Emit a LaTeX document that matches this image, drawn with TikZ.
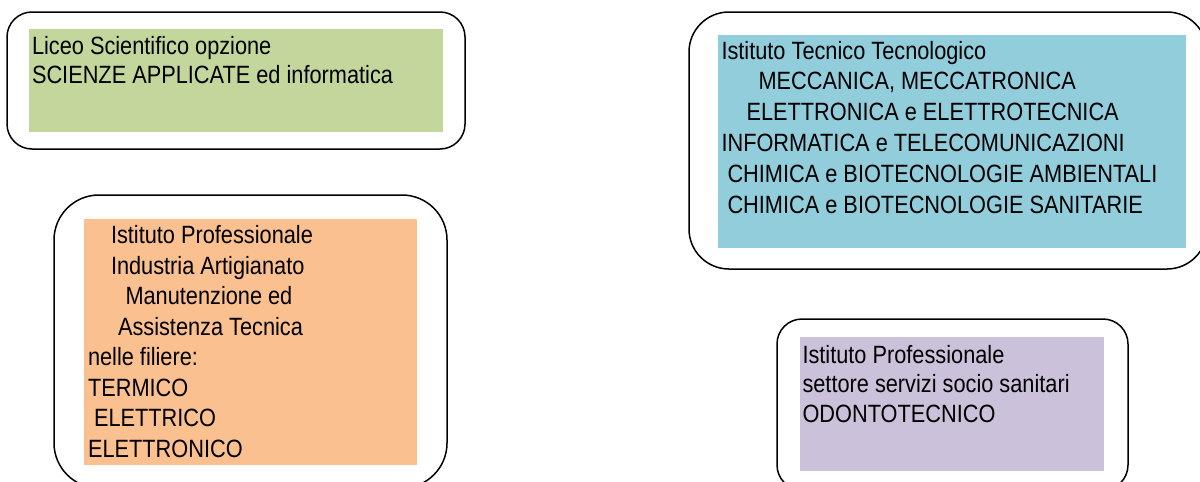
\documentclass[tikz,border=0pt]{standalone}
\usepackage{fontspec}
\setmainfont{Liberation Sans}
\newfontfamily\narrowfont[FakeStretch=0.87]{Liberation Sans}
\definecolor{cgreen}{RGB}{195,214,155}
\definecolor{corange}{RGB}{250,192,144}
\definecolor{cblue}{RGB}{146,205,220}
\definecolor{cpurple}{RGB}{204,193,218}
\tikzset{
  outerbox/.style={draw=black, line width=1.5pt, fill=white, anchor=north west, inner sep=0pt, outer sep=0pt},
  fillbox/.style={draw=none, anchor=north west, inner sep=0pt, outer sep=0pt},
  txt/.style={anchor=base west, inner sep=0pt, outer sep=0pt, text=black, font=\narrowfont\fontsize{25pt}{30pt}\selectfont}
}
\begin{document}
\begin{tikzpicture}[x=1pt,y=-1pt]
\useasboundingbox (0,0) rectangle (1200,482);
\clip (0,0) rectangle (1200,482);
% box 1
\node[outerbox, rounded corners=25pt, minimum width=458pt, minimum height=137pt] (box1) at (7,12) {};
\node[fillbox, fill=cgreen, minimum width=414pt, minimum height=103pt] (fill1) at (29,29) {};
\node[txt] (g1) at (32,54.5) {Liceo Scientifico opzione};
\node[txt] (g2) at (32,83.5) {SCIENZE APPLICATE ed informatica};
% box 2
\node[outerbox, rounded corners=45pt, minimum width=393pt, minimum height=293pt] (box2) at (54,195) {};
\node[fillbox, fill=corange, minimum width=333pt, minimum height=246pt] (fill2) at (84,219) {};
\node[txt] (o1) at (111,243.5) {Istituto Professionale};
\node[txt] (o2) at (111,274) {Industria Artigianato};
\node[txt] (o3) at (125.5,304.5) {Manutenzione ed};
\node[txt] (o4) at (118,335) {Assistenza Tecnica};
\node[txt] (o5) at (88,365.5) {nelle filiere:};
\node[txt] (o6) at (88,396) {TERMICO};
\node[txt] (o7) at (94,426.5) {ELETTRICO};
\node[txt] (o8) at (88,457) {ELETTRONICO};
% box 3
\node[outerbox, rounded corners=40pt, minimum width=518pt, minimum height=257pt] (box3) at (689,12) {};
\node[fillbox, fill=cblue, minimum width=468pt, minimum height=213pt] (fill3) at (718,35) {};
\node[txt] (b1) at (721.5,59) {Istituto Tecnico Tecnologico};
\node[txt] (b2) at (758.5,89.5) {MECCANICA, MECCATRONICA};
\node[txt] (b3) at (746.5,120) {ELETTRONICA e ELETTROTECNICA};
\node[txt] (b4) at (721.5,151) {INFORMATICA e TELECOMUNICAZIONI};
\node[txt] (b5) at (727.5,182) {CHIMICA e BIOTECNOLOGIE AMBIENTALI};
\node[txt] (b6) at (727.5,213) {CHIMICA e BIOTECNOLOGIE SANITARIE};
% box 4
\node[outerbox, rounded corners=25pt, minimum width=351pt, minimum height=171pt] (box4) at (777,319) {};
\node[fillbox, fill=cpurple, minimum width=304pt, minimum height=134pt] (fill4) at (800,337) {};
\node[txt] (p1) at (802.5,363) {Istituto Professionale};
\node[txt] (p2) at (802.5,392.5) {settore servizi socio sanitari};
\node[txt] (p3) at (802.5,422) {ODONTOTECNICO};
\end{tikzpicture}
\end{document}
